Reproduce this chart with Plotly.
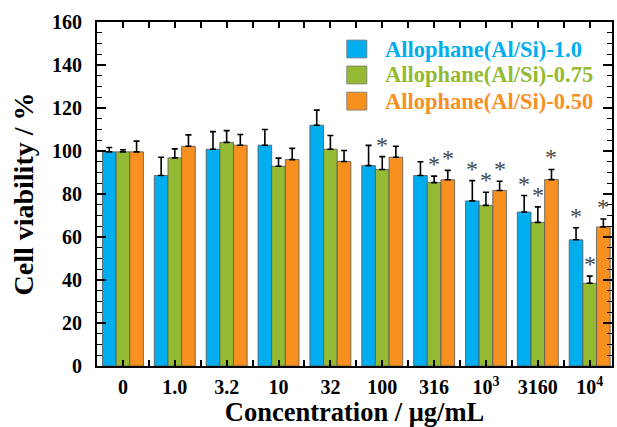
import plotly.graph_objects as go

categories = ["0", "1.0", "3.2", "10", "32", "100", "316", "10<sup>3</sup>", "3160", "10<sup>4</sup>"]
series_names = ["Allophane(Al/Si)-1.0", "Allophane(Al/Si)-0.75", "Allophane(Al/Si)-0.50"]
colors = ["#00AEEF", "#94BA33", "#F8901F"]

blue_vals = [99.6, 88.6, 100.8, 102.7, 112.0, 93.2, 88.6, 76.8, 71.6, 58.7]
blue_err = [2.0, 8.5, 8.2, 7.3, 7.0, 9.4, 6.4, 9.4, 7.7, 5.6]
green_vals = [99.6, 96.8, 104.0, 92.9, 100.8, 91.4, 85.3, 74.7, 66.8, 38.5]
green_err = [1.0, 4.2, 5.5, 3.8, 6.4, 6.0, 3.0, 6.1, 7.2, 3.3]
orange_vals = [99.6, 102.2, 102.7, 96.0, 95.1, 97.1, 86.6, 81.6, 86.7, 64.7]
orange_err = [5.0, 5.3, 5.0, 5.2, 5.1, 5.1, 4.4, 4.3, 4.7, 3.7]

blue_star = [0, 0, 0, 0, 0, 0, 0, 1, 1, 1]
green_star = [0, 0, 0, 0, 0, 1, 1, 1, 1, 1]
orange_star = [0, 0, 0, 0, 0, 0, 1, 1, 1, 1]

y_ticks = [0, 20, 40, 60, 80, 100, 120, 140, 160]

vals = [blue_vals, green_vals, orange_vals]
errs = [blue_err, green_err, orange_err]
stars = [blue_star, green_star, orange_star]

FONT = "Liberation Serif"
BARGAP = 0.21
xs = list(range(len(categories)))

fig = go.Figure()
for j in range(3):
    fig.add_trace(go.Bar(
        x=xs, y=vals[j], name=series_names[j],
        marker=dict(color=colors[j], line=dict(color="#555555", width=0.8)),
        error_y=dict(type="data", array=errs[j], arrayminus=[0] * len(xs), symmetric=False,
                     color="black", thickness=1.6, width=3),
        showlegend=False,
    ))

w = (1 - BARGAP) / 3
annotations = []
for j in range(3):
    for i in xs:
        if stars[j][i]:
            annotations.append(dict(
                x=i + (j - 1) * w, y=vals[j][i] + errs[j][i], xref="x", yref="y",
                text="*", showarrow=False, yanchor="bottom", yshift=-3,
                font=dict(family=FONT, size=24, color="#444444")))

# manual legend
shapes = []
row_y = [0.9215, 0.846, 0.770]
for j in range(3):
    shapes.append(dict(type="rect", xref="paper", yref="paper",
                       x0=0.485, x1=0.524, y0=row_y[j] - 0.026, y1=row_y[j] + 0.026,
                       fillcolor=colors[j], line=dict(color="#777777", width=0.8)))
    annotations.append(dict(x=0.556, y=row_y[j], xref="paper", yref="paper",
                            xanchor="left", yanchor="middle", showarrow=False,
                            text="<b>" + series_names[j] + "</b>",
                            font=dict(family=FONT, size=22.5, color=colors[j])))

fig.update_layout(
    barmode="group", bargap=BARGAP, bargroupgap=0,
    width=617, height=427,
    margin=dict(l=97, r=3, t=22, b=61),
    plot_bgcolor="white", paper_bgcolor="white",
    font=dict(family=FONT, color="black"),
    annotations=annotations, shapes=shapes,
)
fig.update_xaxes(
    range=[-0.5, 9.43], tickvals=xs, ticktext=categories,
    showline=True, linecolor="black", linewidth=2, mirror="ticks",
    ticks="inside", ticklen=6, tickwidth=1.5, tickcolor="black",
    minor=dict(ticks="inside", dtick=1, tick0=0.5, ticklen=6, tickwidth=1.5, tickcolor="black"),
    showgrid=False, zeroline=False, ticklabelstandoff=2,
    tickfont=dict(family=FONT, size=20, weight="bold"),
    title=dict(text="Concentration / μg/mL", font=dict(family=FONT, size=26.5, weight="bold"), standoff=3),
)
fig.update_yaxes(
    range=[0, 160], tickvals=y_ticks,
    showline=True, linecolor="black", linewidth=2, mirror="ticks",
    ticks="inside", ticklen=9, tickwidth=1.5, tickcolor="black",
    minor=dict(ticks="inside", dtick=5, ticklen=5, tickwidth=1.2, tickcolor="black"),
    showgrid=False, zeroline=False, ticklabelstandoff=9,
    tickfont=dict(family=FONT, size=20, weight="bold"),
    title=dict(text="Cell viability / %", font=dict(family=FONT, size=28, weight="bold"), standoff=10),
)

fig.write_html("out.html")
